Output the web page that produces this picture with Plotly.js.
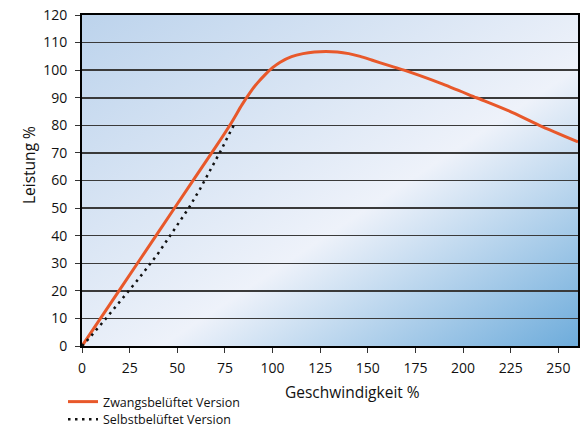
<!DOCTYPE html>
<html>
<head>
<meta charset="utf-8">
<script src="https://cdn.plot.ly/plotly-3.0.1.min.js"></script>
<style>
html,body{margin:0;padding:0;background:#fff;}
#chart{width:581px;height:428px;}
</style>
</head>
<body>
<div id="chart"></div>
<script>
// Data
var forcedName = "Zwangsbelüftet Version";
var forcedX = [0, 20, 40, 60, 70, 78, 84, 88, 92, 96, 100, 104, 110, 116, 122, 128, 134, 140, 146, 152, 160, 169, 188, 207, 224, 240, 260.3];
var forcedY = [0, 20.6, 41.2, 61.8, 72, 80.5, 87.5, 91.7, 95.3, 98.3, 100.9, 102.9, 104.9, 106, 106.6, 106.8, 106.6, 106, 105, 103.7, 101.9, 100, 95.3, 90, 85.2, 80, 74];

var selfName = "Selbstbelüftet Version";
var selfX = [0, 4, 12, 20, 30, 40, 48, 56, 62, 68, 73, 77, 80];
var selfY = [0, 3, 9.5, 16.2, 24.6, 33.6, 41.8, 50, 57, 64.5, 71, 76.5, 80.5];

var xTicks = [0, 25, 50, 75, 100, 125, 150, 175, 200, 225, 250];
var yTicks = [0, 10, 20, 30, 40, 50, 60, 70, 80, 90, 100, 110, 120];

var xTitle = "Geschwindigkeit %";
var yTitle = "Leistung %";

var FONT = "Open Sans, DejaVu Sans, sans-serif";

var gradSvg = '<svg xmlns="http://www.w3.org/2000/svg" width="100" height="100" preserveAspectRatio="none" viewBox="0 0 100 100">' +
  '<defs><linearGradient id="g" x1="0" y1="0" x2="1" y2="1">' +
  '<stop offset="0" stop-color="#bcd3ec"/>' +
  '<stop offset="0.58" stop-color="#eef2fa"/>' +
  '<stop offset="1" stop-color="#6eacdb"/>' +
  '</linearGradient></defs><rect width="100" height="100" fill="url(#g)"/></svg>';
var gradUri = "data:image/svg+xml;base64," + btoa(gradSvg);

var traces = [
  {
    x: forcedX, y: forcedY, name: forcedName, type: "scatter", mode: "lines",
    line: {color: "#e8582a", width: 3, shape: "spline", smoothing: 0.8},
    legend: "legend", cliponaxis: false
  },
  {
    x: selfX, y: selfY, name: selfName, type: "scatter", mode: "lines",
    line: {color: "#111111", width: 2.5, dash: "2.5px,4.5px"},
    legend: "legend2", cliponaxis: false
  }
];

var PW = 496, PH = 331;
var layout = {
  width: 581, height: 428,
  margin: {l: 82, r: 3, t: 15, b: 82, autoexpand: false},
  paper_bgcolor: "#ffffff",
  plot_bgcolor: "rgba(0,0,0,0)",
  font: {family: FONT, size: 14, color: "#111"},
  images: [{
    source: gradUri, xref: "paper", yref: "paper", x: 0, y: 1,
    sizex: 1, sizey: 1, xanchor: "left", yanchor: "top",
    sizing: "stretch", layer: "below"
  }],
  xaxis: {
    range: [0, 260.3], tickvals: xTicks, ticktext: xTicks.map(String),
    showgrid: false, zeroline: false,
    showline: true, linecolor: "#000", linewidth: 2, mirror: true,
    ticks: "outside", ticklen: 5, tickwidth: 1, tickcolor: "#333",
    ticklabelstandoff: 3,
    tickfont: {family: FONT, size: 14, color: "#111"}
  },
  yaxis: {
    range: [0, 120], tickvals: yTicks, ticktext: yTicks.map(String),
    showgrid: true, gridcolor: "#3a3a3a", gridwidth: 1.5,
    zeroline: false,
    showline: true, linecolor: "#000", linewidth: 2, mirror: true,
    ticks: "outside", ticklen: 5, tickwidth: 1, tickcolor: "#333",
    ticklabelstandoff: 5,
    tickfont: {family: FONT, size: 14, color: "#111"}
  },
  annotations: [
    {text: xTitle, xref: "paper", yref: "paper", x: (352 - 82) / PW, y: -(392 - 346) / PH,
     xanchor: "center", yanchor: "middle", showarrow: false,
     font: {family: FONT, size: 15.5, color: "#111"}},
    {text: yTitle, xref: "paper", yref: "paper", x: -(82 - 29) / PW, y: (346 - 165) / PH,
     xanchor: "center", yanchor: "middle", showarrow: false, textangle: -90,
     font: {family: FONT, size: 15.5, color: "#111"}}
  ],
  legend: {
    x: (63 - 82) / PW, y: -(402 - 346) / PH, xanchor: "left", yanchor: "middle",
    bgcolor: "rgba(0,0,0,0)", borderwidth: 0,
    font: {family: FONT, size: 12.5, color: "#111"}
  },
  legend2: {
    x: (63 - 82) / PW, y: -(419.5 - 346) / PH, xanchor: "left", yanchor: "middle",
    bgcolor: "rgba(0,0,0,0)", borderwidth: 0,
    font: {family: FONT, size: 12.5, color: "#111"}
  },
  showlegend: true
};

Plotly.newPlot("chart", traces, layout, {displayModeBar: false, staticPlot: true});
</script>
</body>
</html>
